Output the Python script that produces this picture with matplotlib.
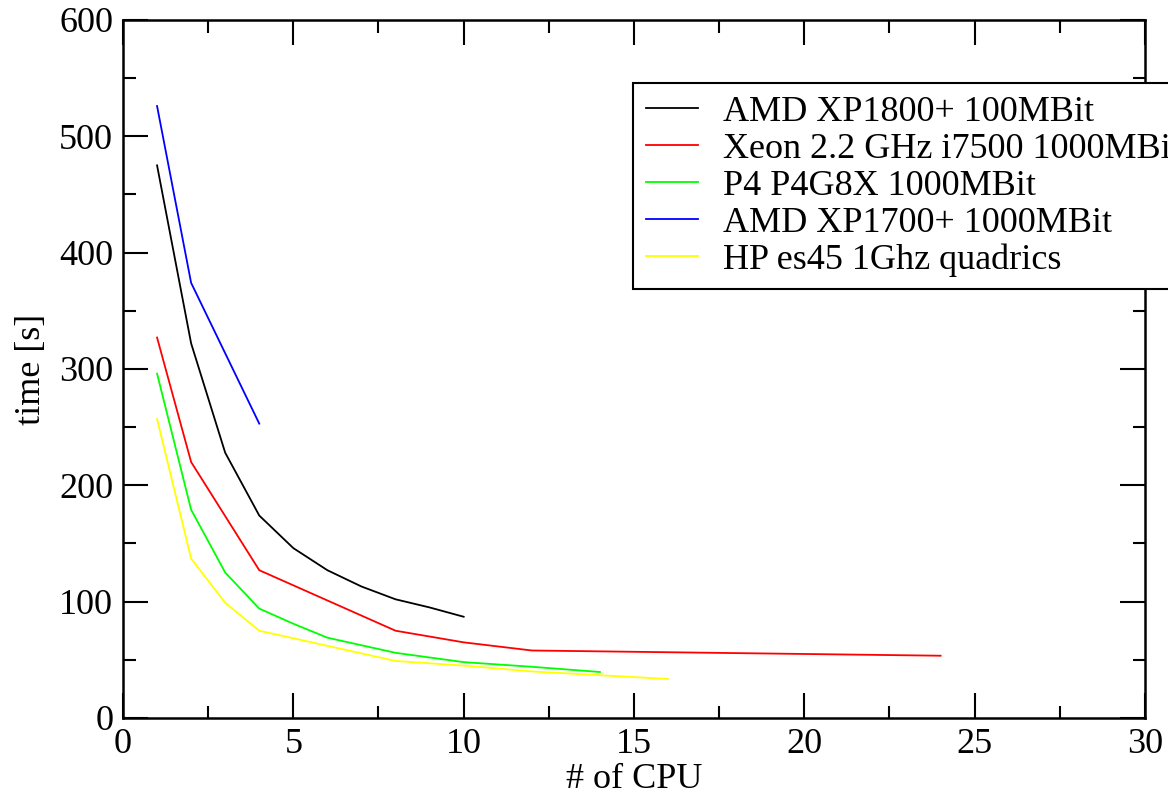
import matplotlib
matplotlib.use('Agg')
import matplotlib.pyplot as plt
from matplotlib.ticker import MultipleLocator

plt.rcParams['font.family'] = ['Liberation Serif', 'DejaVu Serif']

# timings per CPU count
amd1800_cpu = [1, 2, 3, 4, 5, 6, 7, 8, 9, 10]
amd1800_time = [475, 322, 228, 174, 146, 127, 113, 102, 95, 87]

xeon_cpu = [1, 2, 4, 8, 10, 12, 24]
xeon_time = [327, 220, 127, 75, 65, 58, 53.5]

p4_cpu = [1, 2, 3, 4, 5, 6, 8, 10, 12, 14]
p4_time = [296, 179, 125, 94, 81, 69, 56, 48, 44, 39.5]

amd1700_cpu = [1, 2, 4]
amd1700_time = [526, 374, 253]

hp_cpu = [1, 2, 3, 4, 8, 10, 12, 16]
hp_time = [257, 137, 99, 75, 49, 45, 40, 33.5]

labels = ['AMD XP1800+ 100MBit', 'Xeon 2.2 GHz i7500 1000MBit',
          'P4 P4G8X 1000MBit', 'AMD XP1700+ 1000MBit', 'HP es45 1Ghz quadrics']

fig = plt.figure(figsize=(11.68, 7.98), dpi=100)
ax = fig.add_axes([0.1053, 0.1003, 0.8750, 0.8747])

lw = 1.3
ax.plot(amd1800_cpu, amd1800_time, color='black', lw=lw, label=labels[0])
ax.plot(xeon_cpu, xeon_time, color='#ff0000', lw=lw, label=labels[1])
ax.plot(p4_cpu, p4_time, color='#00ff00', lw=lw, label=labels[2])
ax.plot(amd1700_cpu, amd1700_time, color='#0000ff', lw=lw, label=labels[3])
ax.plot(hp_cpu, hp_time, color='#ffff00', lw=lw, label=labels[4])

ax.set_xlim(0, 30)
ax.set_ylim(0, 600)
ax.xaxis.set_major_locator(MultipleLocator(5))
ax.xaxis.set_minor_locator(MultipleLocator(2.5))
ax.yaxis.set_major_locator(MultipleLocator(100))
ax.yaxis.set_minor_locator(MultipleLocator(50))
ax.tick_params(which='both', direction='in', top=True, right=True,
               labelsize=26, width=1.5, pad=7)
ax.tick_params(which='major', length=18)
ax.tick_params(which='minor', length=9)
for s in ax.spines.values():
    s.set_linewidth(1.8)

ax.set_xlabel('# of CPU', fontsize=26, labelpad=2)
ax.set_ylabel('time [s]', fontsize=26, labelpad=8)

# legend runs off the right edge, as in the original
leg = ax.legend(loc='upper left', bbox_to_anchor=(633 / 1168, 1 - 83 / 798),
                bbox_transform=fig.transFigure, borderaxespad=0,
                fontsize=26, frameon=True, fancybox=False, framealpha=1,
                edgecolor='black', handlelength=1.45, handletextpad=0.7,
                labelspacing=0.1, borderpad=0.35)
leg.get_frame().set_linewidth(1.5)

fig.savefig('out.png', dpi=100)
